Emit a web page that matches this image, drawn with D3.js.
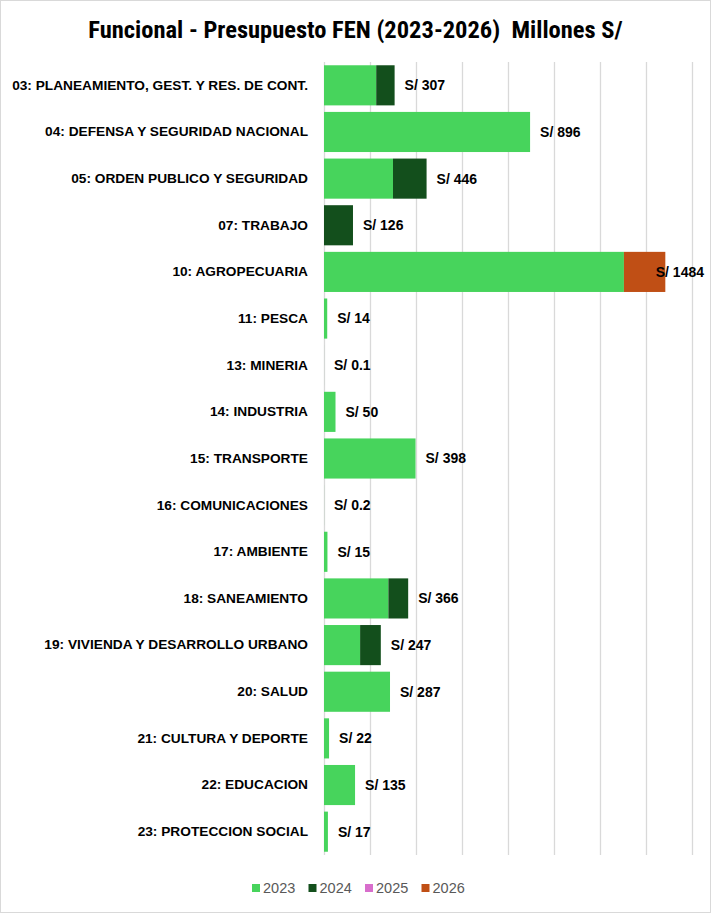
<!DOCTYPE html>
<html>
<head>
<meta charset="utf-8">
<script src="https://cdn.jsdelivr.net/npm/d3@7"></script>
<style>
  body { margin: 0; background: #fff; }
  .title { font-family: "Liberation Sans Narrow", "Roboto Condensed", "Liberation Sans", sans-serif; font-weight: bold; font-size: 24.5px; }
  .cat text { font-family: "Liberation Sans Narrow", "Liberation Sans", sans-serif; font-weight: bold; font-size: 13.7px; fill: #000; }
  .valueLabel { font-family: "Liberation Sans", Arial, sans-serif; font-weight: bold; font-size: 14px; fill: #000; }
  .legend { font-family: "Liberation Sans", Arial, sans-serif; font-size: 14.5px; fill: #595959; }
  .grid line { stroke: #d9d9d9; stroke-width: 1.3; }
  .grid path { display: none; }
</style>
</head>
<body>
<script>
// categories (top to bottom)
const categories = [
  "03: PLANEAMIENTO, GEST. Y RES. DE CONT.",
  "04: DEFENSA Y SEGURIDAD NACIONAL",
  "05: ORDEN PUBLICO Y SEGURIDAD",
  "07: TRABAJO",
  "10: AGROPECUARIA",
  "11: PESCA",
  "13: MINERIA",
  "14: INDUSTRIA",
  "15: TRANSPORTE",
  "16: COMUNICACIONES",
  "17: AMBIENTE",
  "18: SANEAMIENTO",
  "19: VIVIENDA Y DESARROLLO URBANO",
  "20: SALUD",
  "21: CULTURA Y DEPORTE",
  "22: EDUCACION",
  "23: PROTECCION SOCIAL"
];

// series values (millones S/)
const years = ["2023", "2024", "2025", "2026"];
const v2023 = [227, 896, 300, 0, 1304, 14, 0.1, 50, 398, 0.2, 15, 280, 157, 287, 22, 135, 17];
const v2024 = [80, 0, 146, 126, 0, 0, 0, 0, 0, 0, 0, 86, 90, 0, 0, 0, 0];
const v2025 = [0, 0, 0, 0, 0, 0, 0, 0, 0, 0, 0, 0, 0, 0, 0, 0, 0];
const v2026 = [0, 0, 0, 0, 180, 0, 0, 0, 0, 0, 0, 0, 0, 0, 0, 0, 0];
const totalLabels = ["307", "896", "446", "126", "1484", "14", "0.1", "50", "398", "0.2", "15", "366", "247", "287", "22", "135", "17"];
const xTicks = [0, 200, 400, 600, 800, 1000, 1200, 1400, 1600];

const colors = ["#47d45c", "#134f1c", "#d86ecc", "#c04f15"];

const W = 711, H = 913;
const margin = {top: 62, right: 19, bottom: 58, left: 324};
const width = W - margin.left - margin.right;
const height = H - margin.top - margin.bottom;

const rows = categories.map((c, i) => ({
  cat: c, "2023": v2023[i], "2024": v2024[i], "2025": v2025[i], "2026": v2026[i], label: totalLabels[i]
}));

const svg = d3.select("body").append("svg")
  .attr("width", W).attr("height", H);

// outer border
svg.append("rect")
  .attr("x", 0.5).attr("y", 0.5)
  .attr("width", W - 1).attr("height", H - 1)
  .attr("fill", "#fff").attr("stroke", "#d9d9d9");

svg.append("text")
  .attr("class", "title")
  .attr("x", W / 2).attr("y", 38)
  .attr("text-anchor", "middle")
  .attr("xml:space", "preserve")
  .text("Funcional - Presupuesto FEN (2023-2026)  Millones S/");

const g = svg.append("g")
  .attr("transform", "translate(" + margin.left + "," + margin.top + ")");

const xScale = d3.scaleLinear().domain([0, 1600]).range([0, width]);
const yScale = d3.scaleBand().domain(categories).range([0, height]).paddingInner(0.14).paddingOuter(0.07);

// gridlines
g.append("g")
  .attr("class", "grid")
  .attr("transform", "translate(0," + height + ")")
  .call(d3.axisBottom(xScale).tickValues(xTicks).tickSize(-height).tickFormat(""));

// category axis
const yAxis = g.append("g")
  .attr("class", "cat")
  .call(d3.axisLeft(yScale).tickSize(0).tickPadding(16));
yAxis.select(".domain").remove();

// stacked bars
const stack = d3.stack().keys(years)(rows);
g.selectAll(".layer")
  .data(stack)
  .enter().append("g")
  .attr("class", "layer")
  .attr("fill", (d, i) => colors[i])
  .selectAll("rect")
  .data(d => d)
  .enter().append("rect")
  .attr("x", d => xScale(d[0]))
  .attr("y", d => yScale(d.data.cat))
  .attr("width", d => xScale(d[1]) - xScale(d[0]))
  .attr("height", yScale.bandwidth());

// total labels
g.selectAll(".valueLabel")
  .data(rows)
  .enter().append("text")
  .attr("class", "valueLabel")
  .attr("y", d => yScale(d.cat) + yScale.bandwidth() / 2)
  .attr("dy", "0.35em")
  .text(d => "S/ " + d.label)
  .each(function(d) {
    const total = d["2023"] + d["2024"] + d["2025"] + d["2026"];
    const w = this.getComputedTextLength();
    let x = xScale(total) + 10;
    if (x + w > W - margin.left - 7) x = W - margin.left - 7 - w;
    d3.select(this).attr("x", x);
  });

// legend
const legend = svg.append("g")
  .attr("transform", "translate(252," + (H - 20) + ")");
years.forEach((y, i) => {
  const item = legend.append("g").attr("transform", "translate(" + (i * 56.5) + ",0)");
  item.append("rect")
    .attr("x", 0).attr("y", -9)
    .attr("width", 8).attr("height", 8)
    .attr("fill", colors[i]);
  item.append("text")
    .attr("class", "legend")
    .attr("x", 11).attr("y", 0)
    .text(y);
});
</script>
</body>
</html>
